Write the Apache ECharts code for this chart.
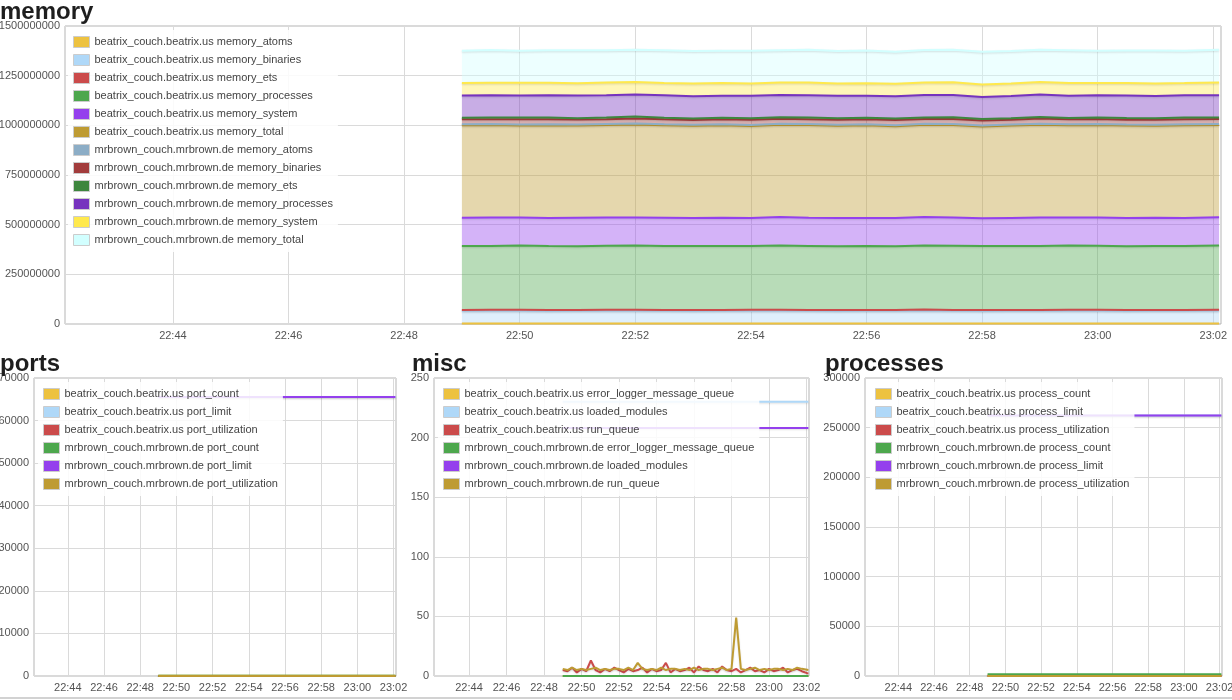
<!DOCTYPE html>
<html><head><meta charset="utf-8">
<script src="https://cdn.jsdelivr.net/npm/echarts@6/dist/echarts.min.js"></script>
<style>html,body{margin:0;padding:0;background:#fff;overflow:hidden}#c{width:1232px;height:700px}</style>
</head><body><div id="c"></div>
<script>
// ---------- data ----------
const xTickLabels = ['22:44','22:46','22:48','22:50','22:52','22:54','22:56','22:58','23:00','23:02'];
const timesMem = ['22:49:00','22:49:30','22:50:00','22:50:30','22:51:00','22:51:30','22:52:00','22:52:30','22:53:00','22:53:30','22:54:00','22:54:30','22:55:00','22:55:30','22:56:00','22:56:30','22:57:00','22:57:30','22:58:00','22:58:30','22:59:00','22:59:30','23:00:00','23:00:30','23:01:00','23:01:30','23:02:06'];
const timesMisc = ['22:49:00','22:49:15','22:49:30','22:49:45','22:50:00','22:50:15','22:50:30','22:50:45','22:51:00','22:51:15','22:51:30','22:51:45','22:52:00','22:52:15','22:52:30','22:52:45','22:53:00','22:53:15','22:53:30','22:53:45','22:54:00','22:54:15','22:54:30','22:54:45','22:55:00','22:55:15','22:55:30','22:55:45','22:56:00','22:56:15','22:56:30','22:56:45','22:57:00','22:57:15','22:57:30','22:57:45','22:58:00','22:58:15','22:58:30','22:58:45','22:59:00','22:59:15','22:59:30','22:59:45','23:00:00','23:00:15','23:00:30','23:00:45','23:01:00','23:01:15','23:01:30','23:01:45','23:02:06'];
const timesFlat = ['22:49:00','23:02:06'];

// memory (stacked, values in millions of bytes)
const memNames = ['beatrix_couch.beatrix.us memory_atoms','beatrix_couch.beatrix.us memory_binaries','beatrix_couch.beatrix.us memory_ets','beatrix_couch.beatrix.us memory_processes','beatrix_couch.beatrix.us memory_system','beatrix_couch.beatrix.us memory_total','mrbrown_couch.mrbrown.de memory_atoms','mrbrown_couch.mrbrown.de memory_binaries','mrbrown_couch.mrbrown.de memory_ets','mrbrown_couch.mrbrown.de memory_processes','mrbrown_couch.mrbrown.de memory_system','mrbrown_couch.mrbrown.de memory_total'];
const bAtoms = [2,2,2,2,2,2,2,2,2,2,2,2,2,2,2,2,2,2,2,2,2,2,2,2,2,2,2];
const bBinaries = [65,66,65,64,65,66,65,65,64,65,66,65,65,64,65,65,66,65,64,65,65,66,65,64,65,65,66];
const bEts = [4,4,5,4,4,4,5,4,4,4,4,5,4,4,4,4,5,4,4,4,4,4,5,4,4,4,4];
const bProcesses = [322,321,323,322,320,322,323,321,322,322,321,323,322,321,322,320,322,323,322,321,322,323,322,321,322,322,323];
const bSystem = [142,143,141,142,144,142,141,143,142,142,141,143,142,143,141,142,143,142,140,142,143,141,142,143,142,141,142];
const bTotal = [465,466,463,467,464,466,468,465,464,466,463,465,467,464,466,463,465,466,462,465,467,464,466,465,463,466,465];
const mAtoms = [5,5,5,5,5,5,5,5,5,5,5,5,5,5,5,5,5,5,5,5,5,5,5,5,5,5,5];
const mBinaries = [25,24,26,25,25,24,26,25,24,25,26,25,24,25,25,26,24,25,25,24,26,25,25,24,25,26,25];
const mEts = [8,8,9,8,7,8,9,8,8,7,8,8,9,8,8,7,8,9,8,8,8,7,8,9,8,8,8];
const mProcesses = [112,113,111,112,114,112,111,113,112,111,113,112,112,113,111,112,113,112,111,112,113,112,111,113,112,112,112];
const mSystem = [63,62,64,63,62,64,63,62,63,64,62,63,64,62,63,63,62,64,63,62,63,64,62,63,63,62,64];
const mTotal = [163,165,162,164,166,163,162,165,164,163,165,162,164,163,165,162,164,163,165,164,162,165,163,164,166,163,164];
const memUnit = 1e6;

// ports
const portNames = ['beatrix_couch.beatrix.us port_count','beatrix_couch.beatrix.us port_limit','beatrix_couch.beatrix.us port_utilization','mrbrown_couch.mrbrown.de port_count','mrbrown_couch.mrbrown.de port_limit','mrbrown_couch.mrbrown.de port_utilization'];
const bPortCount = [60,60];
const bPortLimit = [65536,65536];
const bPortUtil = [0,0];
const mPortCount = [45,45];
const mPortLimit = [65536,65536];
const mPortUtil = [0,0];

// misc
const miscNames = ['beatrix_couch.beatrix.us error_logger_message_queue','beatrix_couch.beatrix.us loaded_modules','beatrix_couch.beatrix.us run_queue','mrbrown_couch.mrbrown.de error_logger_message_queue','mrbrown_couch.mrbrown.de loaded_modules','mrbrown_couch.mrbrown.de run_queue'];
const bErrQueue = [0,0];
const bModules = [230,230];
const bRunQueue = [5,4,7,3,6,4,13,5,3,6,4,7,5,3,6,4,5,7,3,6,4,5,11,3,6,4,5,7,3,8,5,4,6,3,8,5,4,6,3,5,7,4,5,3,6,4,5,7,3,5,6,4,2];
const mErrQueue = [0,0];
const mModules = [208,208];
const mRunQueue = [6,5,7,5,6,5,6,7,5,6,5,6,6,5,7,5,11,6,5,6,5,7,5,6,6,5,6,5,7,5,6,6,5,6,7,5,6,49,6,5,6,7,5,6,5,6,6,5,6,5,7,6,5];

// processes
const procNames = ['beatrix_couch.beatrix.us process_count','beatrix_couch.beatrix.us process_limit','beatrix_couch.beatrix.us process_utilization','mrbrown_couch.mrbrown.de process_count','mrbrown_couch.mrbrown.de process_limit','mrbrown_couch.mrbrown.de process_utilization'];
const bProcCount = [600,600];
const bProcLimit = [262144,262144];
const bProcUtil = [0,0];
const mProcCount = [1700,1700];
const mProcLimit = [262144,262144];
const mProcUtil = [0,0];

const colors6 = ['#edc240','#afd8f8','#cb4b4b','#4da74d','#9440ed','#be9b33'];
const colors12 = colors6.concat(['#8cadc6','#a23c3c','#3e863e','#7633be','#ffe94d','#d2ffff']);

// ---------- helpers ----------
const FONT = '"Liberation Sans", Arial, Helvetica, sans-serif';
function toTs(s){const p=s.split(':').map(Number);return new Date(2014,0,1,p[0],p[1],p[2]||0).getTime();}
function pair(times, vals, unit){return times.map((t,i)=>[toTs(t), vals[i]*(unit||1)]);}
function fmtTime(v){const d=new Date(v);const h=d.getHours(),m=d.getMinutes();return h+':'+(m<10?'0':'')+m;}
const X_MIN = toTs('22:42:08'), X_MAX = toTs('23:02:08');

function xAxis(gi){
  return {type:'time',gridIndex:gi,min:X_MIN,max:X_MAX,minInterval:150000,maxInterval:150000,
    axisLine:{show:false},axisTick:{show:false},
    splitLine:{show:true,lineStyle:{color:'#dadada',width:1}},
    axisLabel:{formatter:fmtTime,showMinLabel:false,showMaxLabel:false,hideOverlap:false,color:'#545454',fontSize:11,fontFamily:FONT,margin:6}};
}
function yAxis(gi,max,interval){
  return {type:'value',gridIndex:gi,min:0,max:max,interval:interval,
    axisLine:{show:false},axisTick:{show:false},
    splitLine:{show:true,lineStyle:{color:'#dadada',width:1}},
    axisLabel:{formatter:v=>String(v),color:'#545454',fontSize:11,fontFamily:FONT,margin:5}};
}
function legend(names,left,top){
  return {orient:'vertical',left:left,top:top,padding:5,itemGap:4,itemWidth:16,itemHeight:11,icon:'rect',
    backgroundColor:'rgba(255,255,255,0.85)',selectedMode:false,
    itemStyle:{borderColor:'#cccccc',borderWidth:1},
    textStyle:{fontSize:11,color:'#444',fontFamily:FONT,lineHeight:14},data:names};
}
function line(name,color,data,gi,opts){
  const s={type:'line',name:name,data:data,xAxisIndex:gi,yAxisIndex:gi,showSymbol:false,symbol:'none',
    animation:false,itemStyle:{color:color},lineStyle:{color:color,width:2,shadowColor:'rgba(0,0,0,0.12)',shadowBlur:2,shadowOffsetY:1}};
  return Object.assign(s,opts||{});
}

const series=[];
[bAtoms,bBinaries,bEts,bProcesses,bSystem,bTotal,mAtoms,mBinaries,mEts,mProcesses,mSystem,mTotal].forEach((arr,i)=>{
  series.push(line(memNames[i],colors12[i],pair(timesMem,arr,memUnit),0,{stack:'memory',areaStyle:{color:colors12[i],opacity:0.4}}));
});
[bPortCount,bPortLimit,bPortUtil,mPortCount,mPortLimit,mPortUtil].forEach((arr,i)=>{
  series.push(line(portNames[i],colors6[i],pair(timesFlat,arr),1));
});
const miscTimes=[timesFlat,timesFlat,timesMisc,timesFlat,timesFlat,timesMisc];
[bErrQueue,bModules,bRunQueue,mErrQueue,mModules,mRunQueue].forEach((arr,i)=>{
  series.push(line(miscNames[i],colors6[i],pair(miscTimes[i],arr),2));
});
[bProcCount,bProcLimit,bProcUtil,mProcCount,mProcLimit,mProcUtil].forEach((arr,i)=>{
  series.push(line(procNames[i],colors6[i],pair(timesFlat,arr),3));
});

const titleStyle={fontSize:24,fontWeight:'bold',color:'#1e1e1e',fontFamily:FONT};
const gridBase={show:true,borderColor:'#b4b4b4',borderWidth:1,backgroundColor:'transparent',containLabel:false,outerBoundsMode:'none'};

const option={
  animation:false,
  backgroundColor:'#fff',
  title:[
    {text:'memory',left:0,top:0,padding:0,textStyle:titleStyle},
    {text:'ports',left:0,top:352,padding:0,textStyle:titleStyle},
    {text:'misc',left:412,top:352,padding:0,textStyle:titleStyle},
    {text:'processes',left:825,top:352,padding:0,textStyle:titleStyle}
  ],
  grid:[
    Object.assign({left:65,top:26,width:1156,height:298},gridBase),
    Object.assign({left:34,top:378,width:362,height:298},gridBase),
    Object.assign({left:434,top:378,width:375,height:298},gridBase),
    Object.assign({left:865,top:378,width:357,height:298},gridBase)
  ],
  xAxis:[xAxis(0),xAxis(1),xAxis(2),xAxis(3)],
  yAxis:[yAxis(0,1500000000,250000000),yAxis(1,70000,10000),yAxis(2,250,50),yAxis(3,300000,50000)],
  legend:[legend(memNames,68,30),legend(portNames,38,382),legend(miscNames,438,382),legend(procNames,870,382)],
  graphic:[
    {type:'rect',z:100,shape:{x:0,y:692,width:1232,height:8},style:{fill:'#fff'}},
    {type:'rect',z:101,shape:{x:0,y:697,width:1232,height:2},style:{fill:'#d2d2d2'}}
  ],
  series:series
};
const chart=echarts.init(document.getElementById('c'),null,{renderer:'canvas'});
chart.setOption(option);
</script></body></html>
